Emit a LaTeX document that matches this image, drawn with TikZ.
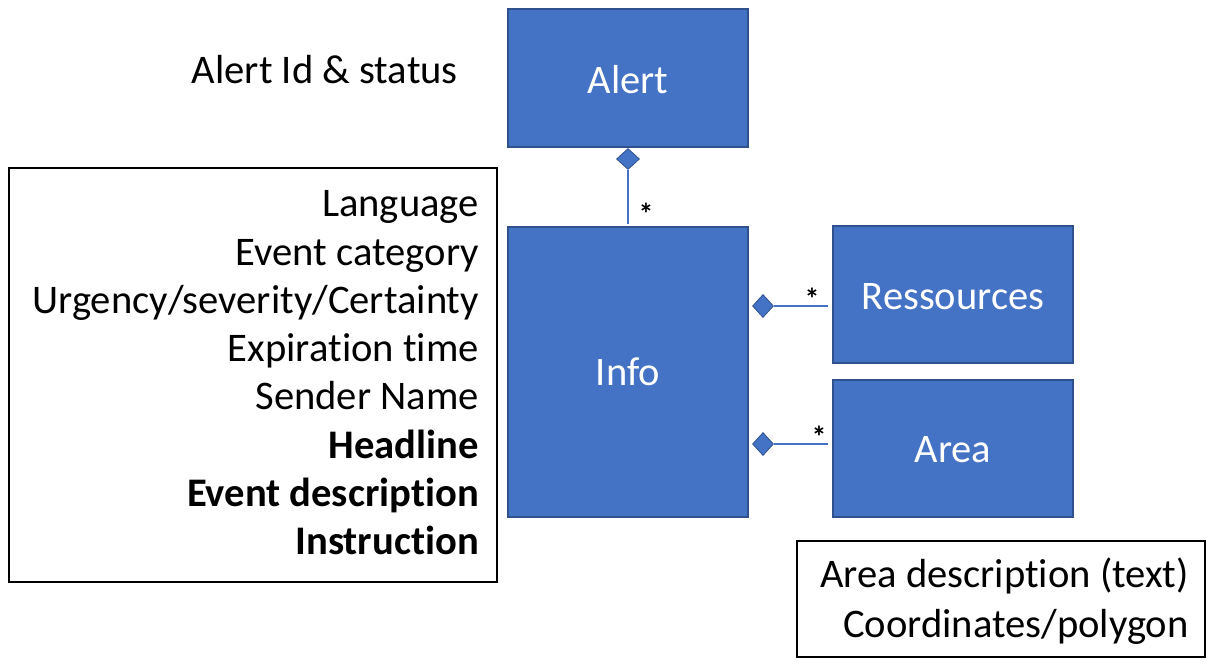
\documentclass[tikz,border=0pt]{standalone}
\usepackage{fontspec}
\setmainfont{Carlito}[Ligatures=NoCommon]
\usetikzlibrary{shapes.geometric}
\definecolor{boxfill}{HTML}{4472C4}
\definecolor{boxline}{HTML}{2F528F}
\begin{document}
\begin{tikzpicture}[x=1pt,y=-1pt,
  cls/.style={draw=boxline,fill=boxfill,line width=1.8pt,inner sep=0pt},
  clslabel/.style={text=white,font=\fontsize{40.5}{48}\selectfont},
  txt/.style={font=\fontsize{40.6}{48}\selectfont,inner sep=0pt},
  btxt/.style={font=\fontsize{40.6}{48}\bfseries\selectfont,inner sep=0pt},
  frame/.style={draw=black,line width=1.3pt},
  dia/.style={diamond,draw=boxline,fill=boxfill,line width=0.8pt,inner sep=0pt,minimum width=23pt,minimum height=21pt},
  conn/.style={draw=boxfill,line width=1.3pt},
  star/.style={font=\fontsize{30}{30}\bfseries\selectfont,inner sep=0pt}]
\useasboundingbox (0,0) rectangle (1216,667);
% classes
\draw[cls] (508,9) rectangle (748,147);
\node[clslabel] (alert) at (628,80) {Alert};
\draw[cls] (508,227) rectangle (748,517);
\node[clslabel] (info) at (628,372) {Info};
\draw[cls] (833,226) rectangle (1073,363);
\node[clslabel] (res) at (953,297) {Ressources};
\draw[cls] (833,380) rectangle (1073,517);
\node[clslabel] (area) at (953,450) {Area};
% connectors
\node[dia] (d1) at (628,159) {};
\coordinate (e1) at (628,224);
\draw[conn] (d1.south) -- (e1);
\node[star] (s1) at (646,214) {*};
\node[dia,minimum width=21pt,minimum height=23pt] (d2) at (763,306) {};
\coordinate (e2) at (828,306);
\draw[conn] (d2.east) -- (e2);
\node[star] (s2) at (812,299) {*};
\node[dia,minimum width=21pt,minimum height=23pt] (d3) at (763,444) {};
\coordinate (e3) at (828,444);
\draw[conn] (d3.east) -- (e3);
\node[star] (s3) at (819,437) {*};
% texts
\node[txt,anchor=base east] (ais) at (458,83) {Alert Id \& status};
\draw[frame] (9,168) rectangle (497,582);
\node[txt,anchor=base east] (t1) at (479,216) {Language};
\node[txt,anchor=base east] (t2) at (479,265) {Event category};
\node[txt,anchor=base east] (t3) at (479,313) {Urgency/severity/Certainty};
\node[txt,anchor=base east] (t4) at (479,361) {Expiration time};
\node[txt,anchor=base east] (t5) at (479,409) {Sender Name};
\node[btxt,anchor=base east] (t6) at (479,458) {Headline};
\node[btxt,anchor=base east] (t7) at (479,506) {Event description};
\node[btxt,anchor=base east] (t8) at (479,554) {Instruction};
\draw[frame] (797,541) rectangle (1205,657);
\node[txt,anchor=base east] (a1) at (1189,587) {Area description (text)};
\node[txt,anchor=base east] (a2) at (1189,637) {Coordinates/polygon};
\end{tikzpicture}
\end{document}
